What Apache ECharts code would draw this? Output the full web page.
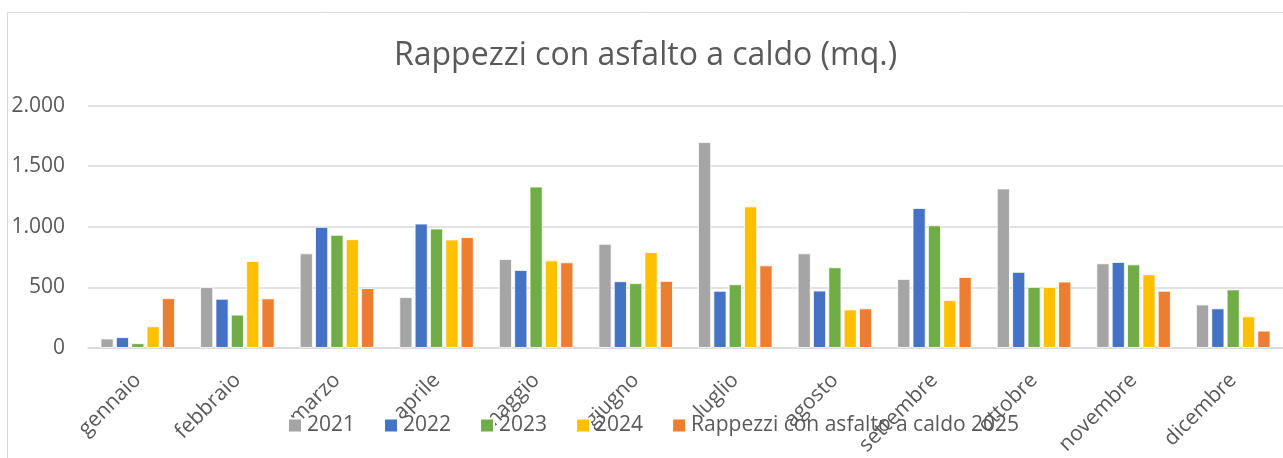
<!DOCTYPE html>
<html>
<head>
<meta charset="utf-8">
<script src="https://cdn.jsdelivr.net/npm/echarts@6/dist/echarts.min.js"></script>
<style>
  html, body { margin: 0; padding: 0; background: #fff; }
  #chart { width: 1283px; height: 458px; }
</style>
</head>
<body>
<div id="chart"></div>
<script>
var months = ['gennaio', 'febbraio', 'marzo', 'aprile', 'maggio', 'giugno',
  'luglio', 'agosto', 'settembre', 'ottobre', 'novembre', 'dicembre']

var y2021 = [77, 501, 780, 419, 733, 859, 1699, 780, 569, 1316, 698, 358]
var y2022 = [88, 405, 999, 1026, 643, 550, 471, 473, 1155, 627, 709, 326]
var y2023 = [38, 274, 933, 985, 1332, 534, 525, 665, 1012, 503, 689, 482]
var y2024 = [178, 717, 897, 895, 722, 791, 1168, 317, 394, 503, 607, 260]
var y2025 = [410, 408, 493, 914, 706, 553, 681, 326, 585, 547, 471, 142]

var seriesNames = ['2021', '2022', '2023', '2024', 'Rappezzi con asfalto a caldo 2025']
var seriesData = [y2021, y2022, y2023, y2024, y2025]
var colors = ['#A5A5A5', '#4472C4', '#70AD47', '#FFC000', '#ED7D31']

var font = '"Open Sans", Lato, sans-serif'
var textColor = '#595959'

var chart = echarts.init(document.getElementById('chart'))

var option = {
  animation: false,
  color: colors,
  textStyle: { fontFamily: font },
  // frame of the chart area (right and bottom edges fall outside the picture)
  graphic: [{
    type: 'rect',
    silent: true,
    shape: { x: 7.5, y: 12.5, width: 1400, height: 600 },
    style: { fill: 'none', stroke: '#d9d9d9', lineWidth: 1 }
  }],
  title: {
    text: 'Rappezzi con asfalto a caldo (mq.)',
    left: 389,
    top: 35,
    textStyle: {
      fontFamily: font,
      fontSize: 32,
      fontWeight: 'normal',
      color: textColor
    }
  },
  legend: {
    left: 282,
    top: 410,
    itemWidth: 14,
    itemHeight: 14,
    itemGap: 28,
    icon: 'rect',
    textStyle: { fontFamily: font, fontSize: 21, color: textColor }
  },
  grid: {
    left: 88,
    right: -10,
    top: 105.7,
    bottom: 108.5,
    containLabel: false
  },
  xAxis: {
    type: 'category',
    data: months,
    axisLine: { lineStyle: { color: '#d9d9d9', width: 1.5 } },
    axisTick: { show: false },
    axisLabel: {
      rotate: 45,
      interval: 0,
      margin: 29,
      fontFamily: font,
      fontSize: 21,
      color: textColor
    }
  },
  yAxis: {
    type: 'value',
    min: 0,
    max: 2000,
    interval: 500,
    axisLine: { show: false },
    axisTick: { show: false },
    splitLine: { lineStyle: { color: '#d9d9d9', width: 1.5 } },
    axisLabel: {
      margin: 23,
      fontFamily: font,
      fontSize: 21,
      color: textColor,
      formatter: function (v) {
        return v.toString().replace(/\B(?=(\d{3})+(?!\d))/g, '.')
      }
    }
  },
  series: seriesNames.map(function (name, i) {
    return {
      name: name,
      type: 'bar',
      data: seriesData[i],
      barWidth: 13,
      barGap: '18%',
      itemStyle: { borderColor: '#fff', borderWidth: 0.8 }
    }
  })
}

chart.setOption(option)
window.addEventListener('resize', function () {
  chart.resize()
})
</script>
</body>
</html>
